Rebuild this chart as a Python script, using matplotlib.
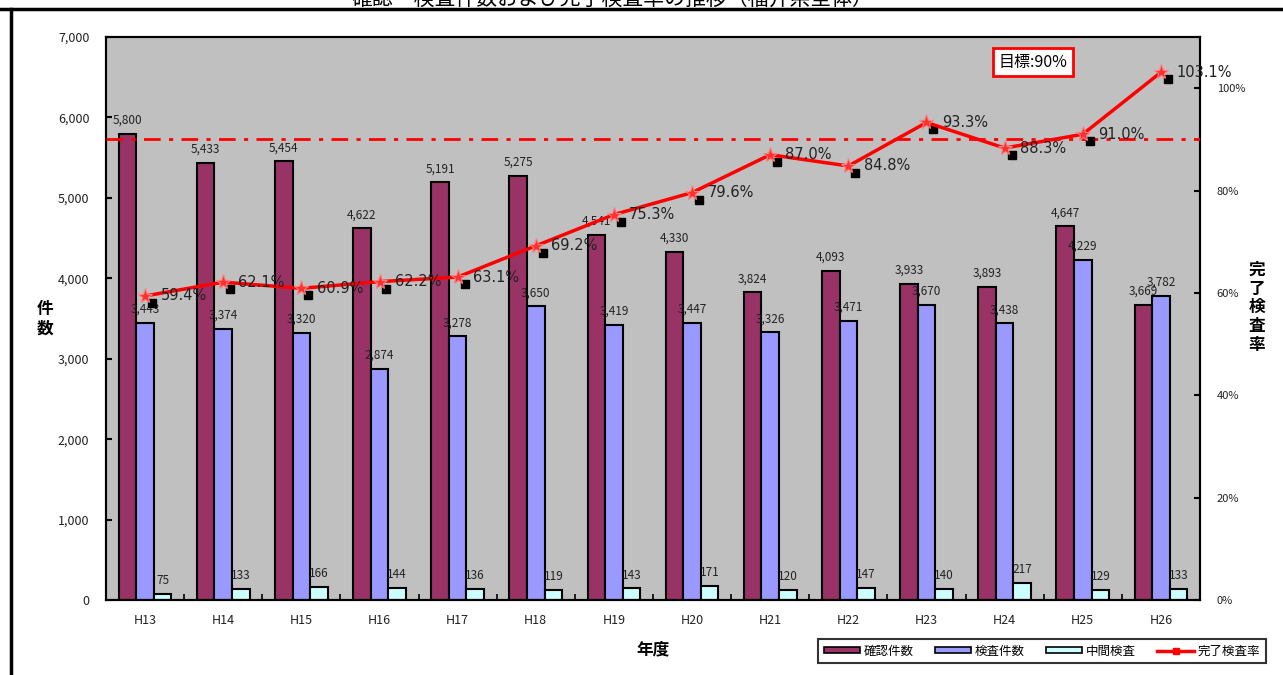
import matplotlib
matplotlib.use("Agg")
import matplotlib.pyplot as plt
import matplotlib.transforms as mtrans
from matplotlib.lines import Line2D
from matplotlib.patches import Patch
from matplotlib.ticker import FuncFormatter, FixedLocator

plt.rcParams['font.family'] = ['Noto Sans CJK JP', 'DejaVu Sans']

# 年度別データ
years = ["H13", "H14", "H15", "H16", "H17", "H18", "H19",
         "H20", "H21", "H22", "H23", "H24", "H25", "H26"]
kakunin = [5800, 5433, 5454, 4622, 5191, 5275, 4541,
           4330, 3824, 4093, 3933, 3893, 4647, 3669]
kensa = [3443, 3374, 3320, 2874, 3278, 3650, 3419,
         3447, 3326, 3471, 3670, 3438, 4229, 3782]
chukan = [75, 133, 166, 144, 136, 119, 143,
          171, 120, 147, 140, 217, 129, 133]
rate = [59.4, 62.1, 60.9, 62.2, 63.1, 69.2, 75.3,
        79.6, 87.0, 84.8, 93.3, 88.3, 91.0, 103.1]
target = 90

c_kakunin = "#993366"
c_kensa = "#9999FF"
c_chukan = "#CCFFFF"
c_bg = "#C0C0C0"
c_txt = "#222222"

fig = plt.figure(figsize=(12.83, 6.75), dpi=100)
ax = fig.add_axes([106/1283, 1-600/675, (1200-106)/1283, (600-37)/675])
ax.set_facecolor(c_bg)

x = list(range(len(years)))
w = 0.225
b1 = ax.bar([i - w for i in x], kakunin, w, color=c_kakunin, edgecolor="black", lw=1.5, zorder=2)
b2 = ax.bar(x, kensa, w, color=c_kensa, edgecolor="black", lw=1.5, zorder=2)
b3 = ax.bar([i + w for i in x], chukan, w, color=c_chukan, edgecolor="black", lw=1.5, zorder=2)

for bars, vals in ((b1, kakunin), (b2, kensa), (b3, chukan)):
    for r, v in zip(bars, vals):
        ax.annotate(f"{v:,}", (r.get_x() + r.get_width()/2, v), xytext=(0, 5),
                    textcoords="offset points", ha="center", va="bottom",
                    fontsize=8.5, color=c_txt, zorder=6)

ax.set_xlim(-0.5, len(years) - 0.5)
ax.set_ylim(0, 7000)
ax.set_yticks(range(0, 7001, 1000))
ax.yaxis.set_major_formatter(FuncFormatter(lambda v, p: f"{int(v):,}"))
ax.set_xticks(x)
ax.set_xticklabels(years)
ax.xaxis.set_minor_locator(FixedLocator([i + 0.5 for i in x[:-1]]))
ax.tick_params(axis="x", which="major", length=0, pad=10, labelsize=9, labelcolor=c_txt)
ax.tick_params(axis="x", which="minor", direction="in", length=4, width=1.2)
ax.tick_params(axis="y", direction="in", length=4, width=1.5, pad=12, labelsize=9, labelcolor=c_txt)
for s in ax.spines.values():
    s.set_linewidth(1.5)

ax.set_ylabel("件\n数", rotation=0, fontsize=12, fontweight="bold", va="center",
              linespacing=1.1)
ax.yaxis.set_label_coords(-0.056, 0.5)
ax.set_xlabel("年度", fontsize=12, fontweight="bold", labelpad=10)

# 完了検査率（右軸）
ax2 = ax.twinx()
ax2.set_ylim(0, 110)
ax2.set_yticks(range(0, 101, 20))
ax2.yaxis.set_major_formatter(FuncFormatter(lambda v, p: f"{int(v)}%"))
ax2.tick_params(axis="y", direction="in", length=4, width=1.5, pad=12, labelsize=8, labelcolor=c_txt)
for s in ax2.spines.values():
    s.set_linewidth(1.5)
ax2.set_ylabel("完\n了\n検\n査\n率", rotation=0, fontsize=12, fontweight="bold",
               va="center", linespacing=1.05)
ax2.yaxis.set_label_coords(1.052, 0.52)

ax2.axhline(target, color="red", lw=2, ls=(0, (6, 3, 1.5, 3)), zorder=3)

sq = ax2.transData + mtrans.ScaledTranslation(5/72, -5/72, fig.dpi_scale_trans)
ax2.plot(x, rate, ls="none", marker="s", ms=6, color="black", transform=sq, zorder=4)
ax2.plot(x, rate, color="red", lw=2.5, marker="*", ms=11, mfc="#FF3030",
         mec="#FF8080", mew=0.8, zorder=5)
for i, v in zip(x, rate):
    ax2.annotate(f"{v:.1f}%", (i, v), xytext=(11, 0), textcoords="offset points",
                 ha="left", va="center", fontsize=10.5, color=c_txt, zorder=6,
                 family=["DejaVu Sans"])

fig.text(1033/1283, 1-62/675, "目標:90%", fontsize=11.5, ha="center", va="center",
         bbox=dict(boxstyle="square,pad=0.35", fc="white", ec="red", lw=2))

# 凡例
handles = [Patch(fc=c_kakunin, ec="black", lw=1.2),
           Patch(fc=c_kensa, ec="black", lw=1.2),
           Patch(fc=c_chukan, ec="black", lw=1.2),
           Line2D([], [], color="red", lw=2.5, marker="s", ms=5)]
labels = ["確認件数", "検査件数", "中間検査", "完了検査率"]
leg = fig.legend(handles, labels, ncol=4, loc="center left",
                 bbox_to_anchor=(818/1283, 1-651/675), fontsize=9, frameon=True,
                 fancybox=False, edgecolor="black", handlelength=2.9, handleheight=0.45,
                 columnspacing=1.7, handletextpad=0.3, borderpad=0.45, borderaxespad=0)
leg.get_frame().set_linewidth(1.5)

# タイトルと外枠
fig.text(612/1283, 1-6/675, "確認・検査件数および完了検査率の推移（福井県全体）",
         fontsize=15, ha="center", va="baseline")
fig.add_artist(Line2D([0, 1], [1-9/675, 1-9/675], color="black", lw=2.5,
                      transform=fig.transFigure))
fig.add_artist(Line2D([11/1283, 11/1283], [0, 1-9/675], color="black", lw=2.5,
                      transform=fig.transFigure))

fig.savefig("out.png", dpi=100)
